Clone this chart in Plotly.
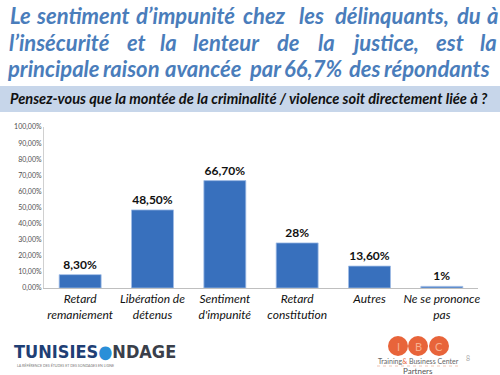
import plotly.graph_objects as go

categories = ["Retard<br>remaniement", "Libération de<br>détenus", "Sentiment<br>d'impunité",
              "Retard<br>constitution", "Autres", "Ne se prononce<br>pas"]
values = [8.3, 48.5, 66.7, 28, 13.6, 1]
value_labels = ["8,30%", "48,50%", "66,70%", "28%", "13,60%", "1%"]
tick_values = [0, 10, 20, 30, 40, 50, 60, 70, 80, 90, 100]
tick_labels = ["0,00%", "10,00%", "20,00%", "30,00%", "40,00%", "50,00%",
               "60,00%", "70,00%", "80,00%", "90,00%", "100,00%"]

title_lines = [
    ["Le", "sentiment", "d’impunité", "chez", "les", "délinquants,", "du", "à"],
    ["l’insécurité", "et", "la", "lenteur", "de", "la", "justice,", "est", "la"],
    ["principale", "raison", "avancée", "par", "66,7%", "des", "répondants"],
]
subtitle = "Pensez-vous que la montée de la criminalité / violence soit directement liée à ?"

W, H = 500, 375
L, R, T, B = 44, 478, 127, 288


def px(x):
    return (x - L) / (R - L)


def py(y):
    return (B - y) / (B - T)


FONT = "Lato, 'Open Sans', sans-serif"
TITLE_COLOR = "#4a7dbb"

# justified title: word centres (pixels) and line centres
title_word_x = [
    [20.5, 83, 185, 264, 311, 392, 468.5, 492],
    [59.5, 136, 168.5, 226.5, 288.5, 326, 385.5, 450, 488],
    [53, 131, 203, 265, 313, 365, 437],
]
title_line_y = [16, 42, 68]

fig = go.Figure()
fig.add_trace(go.Bar(
    x=[f"<i>{c}</i>" for c in categories], y=values,
    text=value_labels, textposition="outside", cliponaxis=False,
    textfont=dict(family=FONT, size=12, color="#111111", weight="bold"),
    marker=dict(color="#3870bd", line=dict(color="#9fbde6", width=0.8)),
    width=0.58, hoverinfo="skip",
))

ann = []
for words, xs, yl in zip(title_lines, title_word_x, title_line_y):
    for w, x in zip(words, xs):
        ann.append(dict(text=f"<b><i>{w}</i></b>", x=px(x), y=py(yl), xref="paper", yref="paper",
                        xanchor="center", yanchor="middle", showarrow=False,
                        font=dict(family=FONT, size=22, color=TITLE_COLOR)))
ann.append(dict(text=f"<b><i>{subtitle}</i></b>", x=px(249), y=py(99), xref="paper", yref="paper",
                xanchor="center", yanchor="middle", showarrow=False,
                font=dict(family=FONT, size=14.6, color="#111111")))

# logo Tunisie Sondage
ann.append(dict(text="<b><span style='color:#1f3f75'>TUNISIES</span><span style='color:#2a8fd8'>●</span><span style='color:#3a3f4a'>NDAGE</span></b>",
                x=px(12), y=py(351), xref="paper", yref="paper", xanchor="left", yanchor="middle",
                showarrow=False, font=dict(family="'DejaVu Sans Condensed', sans-serif", size=18)))
ann.append(dict(text="LA RÉFÉRENCE DES ÉTUDES ET DES SONDAGES EN LIGNE",
                x=px(15), y=py(365), xref="paper", yref="paper", xanchor="left", yanchor="middle",
                showarrow=False, font=dict(family=FONT, size=3.6, color="#777777")))
# IBC logo
for letter, cx in zip(["I", "B", "C"], [398, 418, 439]):
    ann.append(dict(text=letter, x=px(cx), y=py(346), xref="paper", yref="paper",
                    xanchor="center", yanchor="middle", showarrow=False,
                    font=dict(family=FONT, size=11, color="#f7b08f")))
ann.append(dict(text="<span style='color:#666'>Training</span><span style='color:#e8643a'>&</span><span style='color:#666'> Business Center</span>",
                x=px(418), y=py(361), xref="paper", yref="paper", xanchor="center", yanchor="middle",
                showarrow=False, font=dict(family=FONT, size=7)))
ann.append(dict(text="Partners", x=px(418), y=py(371), xref="paper", yref="paper", xanchor="center",
                yanchor="middle", showarrow=False, font=dict(family=FONT, size=8, color="#555555")))
ann.append(dict(text="8", x=px(468), y=py(358), xref="paper", yref="paper", xanchor="center",
                yanchor="middle", showarrow=False, font=dict(family=FONT, size=7, color="#aaaaaa")))

shapes = [
    dict(type="rect", xref="paper", yref="paper", x0=px(0), x1=px(500), y0=py(112), y1=py(86),
         fillcolor="#c7d6ea", line=dict(width=0), layer="below"),
]
for cx in [398, 418, 439]:
    shapes.append(dict(type="circle", xref="paper", yref="paper", x0=px(cx - 10), x1=px(cx + 10),
                       y0=py(356), y1=py(336), fillcolor="#e8643a", line=dict(width=0)))
shapes.append(dict(type="line", xref="paper", yref="paper", x0=px(377), x1=px(458), y0=py(366), y1=py(366),
                   line=dict(color="#e8a080", width=0.6, dash="dot")))

fig.update_layout(
    width=W, height=H, margin=dict(l=L, r=W - R, t=T, b=H - B, autoexpand=False),
    paper_bgcolor="white", plot_bgcolor="white", showlegend=False,
    bargap=0.42,
    annotations=ann, shapes=shapes,
    font=dict(family=FONT),
)
fig.update_xaxes(showline=True, linecolor="#bfbfbf", linewidth=1, ticks="", automargin=False,
                 tickfont=dict(family=FONT, size=12, color="#111111"), showgrid=False)
fig.update_yaxes(range=[0, 100], tickvals=tick_values, ticktext=tick_labels,
                 showline=True, linecolor="#d0d0d0", linewidth=1, ticks="", showgrid=False,
                 zeroline=False, automargin=False, tickfont=dict(family=FONT, size=7, color="#505050"))

fig.write_html("out.html", config={"displayModeBar": False},
               post_script="document.body.style.margin='0';document.body.style.overflow='hidden';")
